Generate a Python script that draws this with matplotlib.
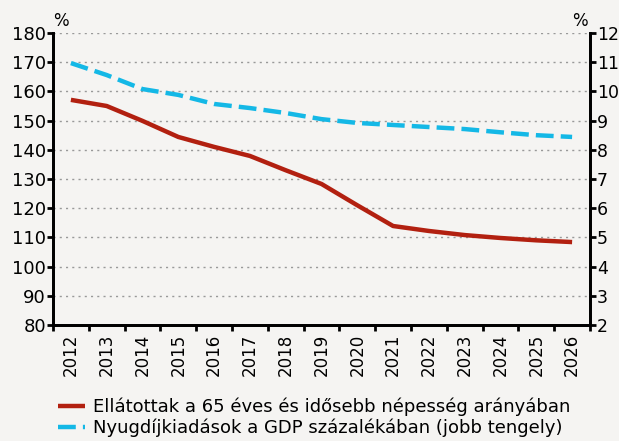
import matplotlib
matplotlib.use("Agg")
import matplotlib.pyplot as plt
import numpy as np

years = [str(y) for y in range(2012, 2027)]
ellatottak = [157.1, 155.0, 149.9, 144.4, 141.0, 137.9, 133.0, 128.3, 121.0, 113.9,
              112.2, 110.8, 109.8, 109.0, 108.4]
nyugdij = [10.97, 10.56, 10.08, 9.88, 9.57, 9.43, 9.26, 9.05, 8.92, 8.85,
           8.78, 8.71, 8.60, 8.50, 8.44]

label_red = "Ellátottak a 65 éves és idősebb népesség arányában"
label_blue = "Nyugdíjkiadások a GDP százalékában (jobb tengely)"

bg = "#f5f4f2"
red = "#b22010"
blue = "#14b8e6"

plt.rcParams["font.family"] = ["DejaVu Sans"]

fig = plt.figure(figsize=(6.19, 4.41), dpi=100, facecolor=bg)
ax = fig.add_axes([53 / 619, 1 - 325 / 441, (590 - 53) / 619, (325 - 33) / 441])
ax.set_facecolor(bg)
ax2 = ax.twinx()

x = np.arange(len(years))
l1, = ax.plot(x, ellatottak, color=red, lw=3.2, solid_capstyle="butt")
l2, = ax2.plot(x, nyugdij, color=blue, lw=3.2, dashes=(4, 1.6))

ax.set_xlim(-0.5, len(years) - 0.5)
ax.set_ylim(80, 180)
ax.set_yticks(np.arange(80, 181, 10))
ax2.set_ylim(2, 12)
ax2.set_yticks(np.arange(2, 13, 1))

ax.set_xticks(x)
ax.set_xticklabels(years, rotation=90, fontsize=12)
ax.set_xticks(np.arange(-0.5, len(years), 1), minor=True)
ax.tick_params(axis="x", which="major", length=0, pad=6)
ax.tick_params(axis="x", which="minor", length=4, width=2, direction="out")
ax.tick_params(axis="y", length=4, width=2, direction="out", labelsize=13, pad=1)
ax2.tick_params(axis="y", length=4, width=2, direction="out", labelsize=12.5, pad=1)

ax.yaxis.grid(True, linestyle=(0, (1.5, 3)), color="#999999", lw=1)
ax.set_axisbelow(True)

for a in (ax, ax2):
    a.spines["top"].set_visible(False)
    for s in ("left", "right", "bottom"):
        a.spines[s].set_linewidth(2)

ax.text(0.0, 1.01, "%", transform=ax.transAxes, fontsize=12, ha="left", va="bottom")
ax.text(0.995, 1.01, "%", transform=ax.transAxes, fontsize=12, ha="right", va="bottom")

fig.legend([l1, l2], [label_red, label_blue], loc="lower left",
           bbox_to_anchor=(48 / 619, -6 / 441), frameon=False, fontsize=13,
           handlelength=1.5, handletextpad=0.45, labelspacing=0.12,
           borderaxespad=0.15)

fig.savefig("out.png", dpi=100, facecolor=bg)
